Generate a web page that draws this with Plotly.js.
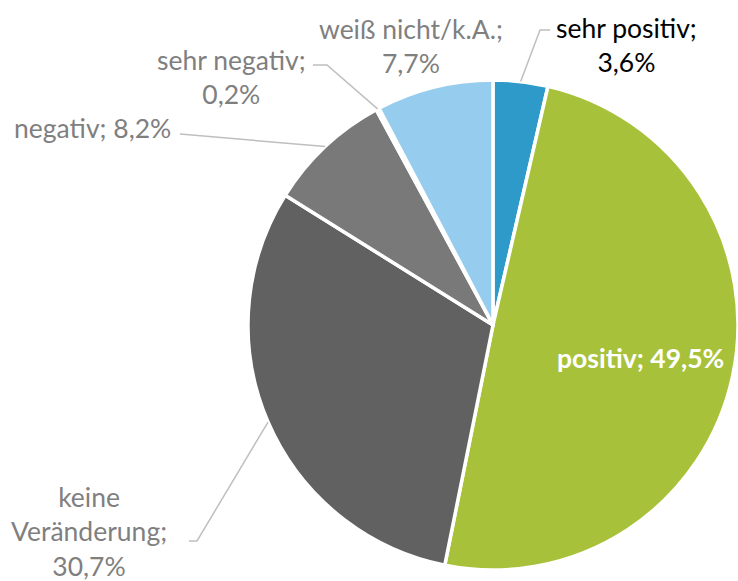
<!DOCTYPE html>
<html><head><meta charset="utf-8">
<script src="https://cdn.plot.ly/plotly-3.0.1.min.js"></script>
<style>html,body{margin:0;padding:0;background:#fff}#chart{width:738px;height:581px}</style>
</head><body><div id="chart"></div>
<script>
const categories = ["sehr positiv", "positiv", "keine Veränderung", "negativ", "sehr negativ", "weiß nicht/k.A."];
const values = [3.6, 49.5, 30.7, 8.2, 0.2, 7.7];
const valueLabels = ["3,6%", "49,5%", "30,7%", "8,2%", "0,2%", "7,7%"];
const colors = ["#2E9AC9", "#A7C23A", "#616161", "#797979", "#9A9A9A", "#96CDEE"];

const W = 738, H = 581;
const cx = 493, cy = 325, R = 245;
const domX = [(cx - R) / W, (cx + R) / W];
const domY = [1 - (cy + R) / H, 1 - (cy - R) / H];
const px = x => x / W, py = y => 1 - y / H;

// slice mid-angle edge points computed from data
const total = values.reduce((a, b) => a + b, 0);
let cum = 0;
const edge = values.map(v => {
  const mid = (cum + v / 2) / total; cum += v;
  const a = mid * 2 * Math.PI;
  return [cx + R * Math.sin(a), cy - R * Math.cos(a)];
});

const gray = "#7F7F7F";
const font = "Lato, 'Open Sans', sans-serif";
const ann = (text, x, y, color, opts) => Object.assign({
  text, x: px(x), y: py(y), xref: "paper", yref: "paper", showarrow: false,
  xanchor: "center", yanchor: "middle", align: "center",
  font: {family: font, size: 26.5, color}
}, opts || {});

const annotations = [
  ann(categories[0] + ";<br>" + valueLabels[0], 626, 45, "#000000"),
  ann("<b>" + categories[1] + "; " + valueLabels[1] + "</b>", 640, 358, "#FFFFFF"),
  ann("keine<br>Veränderung;<br>" + valueLabels[2], 89, 531, gray),
  ann(categories[3] + "; " + valueLabels[3], 92, 128, gray),
  ann(categories[4] + ";<br>" + valueLabels[4], 231, 77, gray),
  ann(categories[5] + ";<br>" + valueLabels[5], 411, 46, gray)
];

const pathOf = pts => pts.map((p, i) => (i ? "L" : "M") + px(p[0]) + "," + py(p[1])).join(" ");
const lineStyle = {color: "#BFBFBF", width: 1.5};
const shapes = [
  {type: "path", xref: "paper", yref: "paper", line: lineStyle, path: pathOf([[550, 30], [540, 30], edge[0]])},
  {type: "path", xref: "paper", yref: "paper", line: lineStyle, path: pathOf([[189, 541], [197, 541], edge[2]])},
  {type: "path", xref: "paper", yref: "paper", line: lineStyle, path: pathOf([[180, 134], edge[3]])},
  {type: "path", xref: "paper", yref: "paper", line: lineStyle, path: pathOf([[313, 65], [327, 65], edge[4]])}
];

Plotly.newPlot("chart", [{
  type: "pie", labels: categories, values: values, sort: false, direction: "clockwise",
  rotation: 0, textinfo: "none", hoverinfo: "label+percent",
  marker: {colors: colors, line: {color: "#FFFFFF", width: 3.5}},
  domain: {x: domX, y: domY}, showlegend: false
}], {
  width: W, height: H, margin: {l: 0, r: 0, t: 0, b: 0},
  paper_bgcolor: "#FFFFFF", showlegend: false,
  annotations, shapes
}, {displayModeBar: false, staticPlot: true});
</script></body></html>
